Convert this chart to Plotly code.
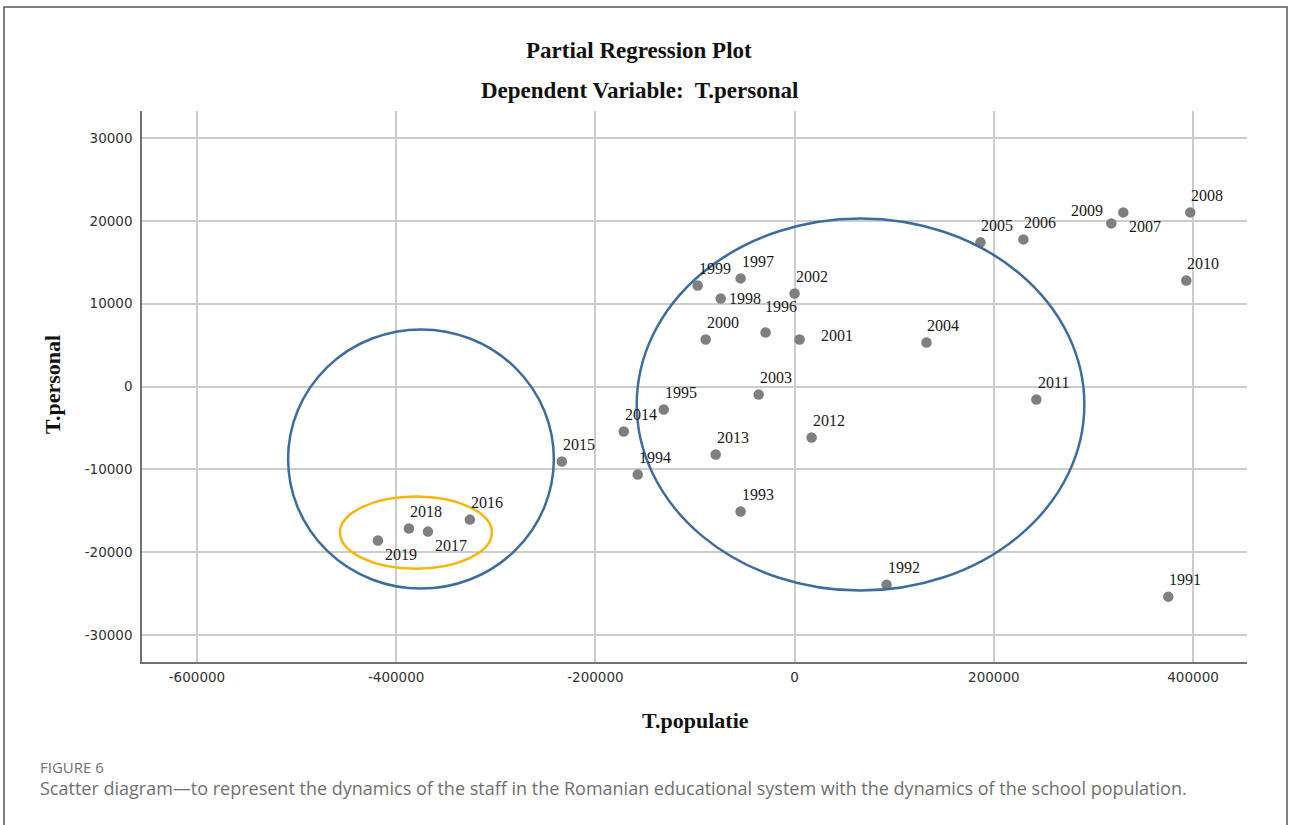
import plotly.graph_objects as go

# Partial regression residuals: T.populatie (x) vs T.personal (y), one point per year
years = [
    "1991", "1992", "1993", "1994", "1995", "1996", "1997", "1998", "1999", "2000",
    "2001", "2002", "2003", "2004", "2005", "2006", "2007", "2008", "2009", "2010",
    "2011", "2012", "2013", "2014", "2015", "2016", "2017", "2018", "2019",
]
t_populatie = [
    375100, 92300, -54200, -157500, -131400, -29100, -54200, -74200, -97300, -89300,
    5000, 0, -36100, 132400, 186600, 229700, 330000, 397200, 318000, 393200,
    242700, 17100, -79200, -171500, -233700, -326000, -368100, -387200, -418300,
]
t_personal = [
    -25370, -23920, -15100, -10630, -2780, 6520, 13050, 10630, 12200, 5680,
    5680, 11230, -970, 5320, 17400, 17760, 21020, 21020, 19690, 12800,
    -1570, -6160, -8210, -5440, -9060, -16070, -17520, -17150, -18600,
]

x_ticks = [-600000, -400000, -200000, 0, 200000, 400000]
y_ticks = [-30000, -20000, -10000, 0, 10000, 20000, 30000]

# Where each year label sits relative to its point (pixels: right, up)
label_offsets = {
    "1996": (15, 26), "1998": (24, 0), "2001": (37, 4),
    "2007": (22, -14), "2009": (-24, 13), "2017": (23, -14), "2019": (23, -14),
}
default_offset = (17, 17)

# Highlighting ellipses drawn in data coordinates: (x0, x1, y0, y1, colour)
ellipses = [
    (-508500, -241700, -24400, 6890, "#3d6d9e"),
    (-158500, 290900, -24640, 20290, "#3d6d9e"),
    (-456400, -303900, -21990, -13290, "#f5b50a"),
]

SERIF = "Liberation Serif, Times New Roman, serif"
SANS = "DejaVu Sans, Verdana, sans-serif"
CAPTION = "Open Sans, Noto Sans, sans-serif"

fig = go.Figure()

fig.add_trace(go.Scatter(
    x=t_populatie, y=t_personal, mode="markers",
    marker=dict(size=10.5, color="#7f7f7f", line=dict(width=0)),
    hoverinfo="skip", showlegend=False,
))

annotations = []
for yr, xv, yv in zip(years, t_populatie, t_personal):
    dx, dy = label_offsets.get(yr, default_offset)
    annotations.append(dict(
        x=xv, y=yv, xref="x", yref="y", text=yr, showarrow=False,
        xshift=dx, yshift=dy, font=dict(family=SERIF, size=16, color="#1a1a1a"),
    ))

shapes = []
for x0, x1, y0, y1, col in ellipses:
    shapes.append(dict(type="circle", xref="x", yref="y", x0=x0, x1=x1, y0=y0, y1=y1,
                       line=dict(color=col, width=2.5), fillcolor="rgba(0,0,0,0)"))

# outer frame around the figure panel
shapes.append(dict(type="rect", xref="paper", yref="paper",
                   x0=-0.1249, x1=1.0362, y0=-0.32, y1=1.1887,
                   line=dict(color="#555555", width=1.5), layer="below"))

annotations += [
    dict(text="<b>Partial Regression Plot</b>", x=0.4502, y=1.1089, xref="paper", yref="paper",
         showarrow=False, xanchor="center", yanchor="middle",
         font=dict(family=SERIF, size=23, color="#111111")),
    dict(text="<b>Dependent Variable:  T.personal</b>", x=0.4498, y=1.0363, xref="paper", yref="paper",
         showarrow=False, xanchor="center", yanchor="middle",
         font=dict(family=SERIF, size=23, color="#111111")),
    dict(text="<b>T.populatie</b>", x=0.5005, y=-0.1053, xref="paper", yref="paper",
         showarrow=False, xanchor="center", yanchor="middle",
         font=dict(family=SERIF, size=22, color="#111111")),
    dict(text="<b>T.personal</b>", x=-0.0814, y=0.5027, xref="paper", yref="paper",
         showarrow=False, xanchor="center", yanchor="middle", textangle=-90,
         font=dict(family=SERIF, size=22, color="#111111")),
    dict(text="FIGURE 6", x=-0.0941, y=-0.1906, xref="paper", yref="paper",
         showarrow=False, xanchor="left", yanchor="middle",
         font=dict(family=CAPTION, size=15, color="#707070")),
    dict(text="Scatter diagram\u2014to represent the dynamics of the staff in the Romanian educational "
              "system with the dynamics of the school population.",
         x=-0.0941, y=-0.2287, xref="paper", yref="paper",
         showarrow=False, xanchor="left", yanchor="middle",
         font=dict(family=CAPTION, size=18, color="#707070")),
]

fig.update_layout(
    width=1290, height=825,
    margin=dict(l=142, r=43, t=111, b=163),
    paper_bgcolor="white", plot_bgcolor="white",
    shapes=shapes, annotations=annotations,
    xaxis=dict(
        range=[-655163, 454163], tickvals=x_ticks, ticktext=[str(v) for v in x_ticks],
        showgrid=True, gridcolor="#cccccc", gridwidth=1.5, zeroline=False,
        showline=True, linecolor="#707070", linewidth=1.5, ticks="",
        ticklabelstandoff=2, tickfont=dict(family=SANS, size=13.5, color="#333333"),
    ),
    yaxis=dict(
        range=[-33260, 33260], tickvals=y_ticks, ticktext=[str(v) for v in y_ticks],
        showgrid=True, gridcolor="#cccccc", gridwidth=1.5, zeroline=False,
        showline=True, linecolor="#707070", linewidth=1.5, ticks="",
        ticklabelstandoff=5, tickfont=dict(family=SANS, size=13.5, color="#333333"),
    ),
)

fig.write_html("out.html")
